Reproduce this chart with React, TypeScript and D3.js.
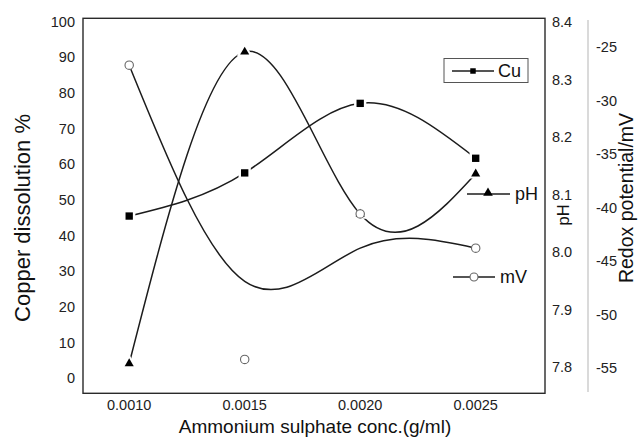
import React from "react";
import * as d3 from "d3";

// Ammonium sulphate concentration (g/ml)
const concentrations = [0.001, 0.0015, 0.002, 0.0025];
// Copper dissolution (%)
const copperDissolution = [45.5, 57.6, 77.1, 61.7];
// Solution pH
const phValues = [7.806, 8.348, 8.066, 8.136];
// Redox potential (mV), measured points
const redoxValues = [-26.7, -54.2, -40.6, -43.8];
// Redox potential (mV), smoothed trend line
const redoxSmoothed = [-26.7, -46.9, -43.8, -43.8];

const xTicks = [0.001, 0.0015, 0.002, 0.0025];
const cuTicks = [0, 10, 20, 30, 40, 50, 60, 70, 80, 90, 100];
const phTicks = [7.8, 7.9, 8.0, 8.1, 8.2, 8.3, 8.4];
const mvTicks = [-55, -50, -45, -40, -35, -30, -25];

const W = 639;
const H = 437;
const FONT = "'Liberation Sans', Arial, Helvetica, sans-serif";
const INK = "#1c1c1c";

const frame = { left: 83, right: 545, top: 18.3, bottom: 393.3 };

export default function App() {
  const x = d3.scaleLinear().domain([0.0008, 0.0028]).range([frame.left, frame.right]);
  const yCu = d3.scaleLinear().domain([0, 100]).range([378.3, 21.7]);
  const yPh = d3.scaleLinear().domain([7.8, 8.4]).range([367, 22]);
  const yMv = d3.scaleLinear().domain([-55, -25]).range([368, 47]);

  const lineOf = (vals: number[], y: d3.ScaleLinear<number, number>) =>
    d3
      .line<number>()
      .x((_, i) => x(concentrations[i]))
      .y((v) => y(v))
      .curve(d3.curveNatural)(vals) || "";

  const sq = d3.symbol().type(d3.symbolSquare);
  const tri = d3.symbol().type(d3.symbolTriangle);

  const squarePath = sq.size(54)() || "";
  const squareHalo = sq.size(150)() || "";
  const triPath = tri.size(36)() || "";
  const triHalo = tri.size(110)() || "";
  const legendSquare = sq.size(30)() || "";
  const legendTri = tri.size(40)() || "";

  const fmtX = d3.format(".4f");
  const fmtPh = d3.format(".1f");

  return (
    <svg
      width={W}
      height={H}
      style={{ position: "absolute", left: 0, top: 0, background: "#fff" }}
      fontFamily={FONT}
    >
      <rect x={0} y={0} width={W} height={H} fill="#fff" />

      {/* plot frame */}
      <rect
        x={frame.left}
        y={frame.top}
        width={frame.right - frame.left}
        height={frame.bottom - frame.top}
        fill="none"
        stroke="#2a2a2a"
        strokeWidth={1.4}
      />

      {/* secondary redox axis line */}
      <line x1={588} x2={588} y1={20} y2={392} stroke="#b5b5b5" strokeWidth={1} />

      {/* left axis labels */}
      {cuTicks.map((t) => (
        <text key={"cu" + t} x={75} y={yCu(t)} textAnchor="end" dominantBaseline="central" fontSize={14.5} fill="#222">
          {t}
        </text>
      ))}
      {/* pH axis labels */}
      {phTicks.map((t) => (
        <text key={"ph" + t} x={552} y={yPh(t)} textAnchor="start" dominantBaseline="central" fontSize={14.5} fill="#222">
          {fmtPh(t)}
        </text>
      ))}
      {/* redox axis labels */}
      {mvTicks.map((t) => (
        <text key={"mv" + t} x={596} y={yMv(t)} textAnchor="start" dominantBaseline="central" fontSize={14.5} fill="#222">
          {String(t)}
        </text>
      ))}
      {/* x axis labels */}
      {xTicks.map((t) => (
        <text key={"x" + t} x={x(t)} y={405} textAnchor="middle" dominantBaseline="central" fontSize={14.5} fill="#222">
          {fmtX(t)}
        </text>
      ))}

      {/* axis titles */}
      <text x={315} y={433} textAnchor="middle" fontSize={19} fill="#111">
        Ammonium sulphate conc.(g/ml)
      </text>
      <text
        transform="translate(22,218) rotate(-90)"
        textAnchor="middle"
        dominantBaseline="central"
        fontSize={22}
        fill="#111"
      >
        Copper dissolution %
      </text>
      <text
        transform="translate(569,215) rotate(-90)"
        textAnchor="middle"
        fontSize={16.5}
        fill="#111"
      >
        pH
      </text>
      <text
        transform="translate(633,198) rotate(-90)"
        textAnchor="middle"
        fontSize={19.5}
        fill="#111"
      >
        Redox potential/mV
      </text>

      {/* curves */}
      <path d={lineOf(copperDissolution, yCu)} fill="none" stroke={INK} strokeWidth={1.5} />
      <path d={lineOf(phValues, yPh)} fill="none" stroke={INK} strokeWidth={1.5} />
      <path d={lineOf(redoxSmoothed, yMv)} fill="none" stroke={INK} strokeWidth={1.5} />

      {/* copper markers */}
      {copperDissolution.map((v, i) => (
        <g key={"cum" + i} transform={`translate(${x(concentrations[i])},${yCu(v)})`}>
          <path d={squareHalo} fill="#fff" />
          <path d={squarePath} fill="#000" />
        </g>
      ))}
      {/* pH markers */}
      {phValues.map((v, i) => (
        <g key={"phm" + i} transform={`translate(${x(concentrations[i])},${yPh(v)})`}>
          <path d={triHalo} fill="#fff" />
          <path d={triPath} fill="#000" />
        </g>
      ))}
      {/* redox markers */}
      {redoxValues.map((v, i) => (
        <circle
          key={"mvm" + i}
          cx={x(concentrations[i])}
          cy={yMv(v)}
          r={4.2}
          fill="#fff"
          stroke="#666"
          strokeWidth={1.1}
        />
      ))}

      {/* legend: Cu */}
      <rect x={444} y={58.5} width={84} height={24} fill="#fff" stroke="#555" strokeWidth={1} />
      <line x1={452} x2={494} y1={71} y2={71} stroke={INK} strokeWidth={1.3} />
      <path d={legendSquare} transform="translate(473,71)" fill="#000" />
      <text x={498} y={71} dominantBaseline="central" fontSize={18} fill="#111">
        Cu
      </text>

      {/* legend: pH */}
      <line x1={467} x2={510} y1={194} y2={194} stroke={INK} strokeWidth={1.3} />
      <path d={legendTri} transform="translate(488,193)" fill="#000" />
      <text x={515} y={194} dominantBaseline="central" fontSize={18} fill="#111">
        pH
      </text>

      {/* legend: mV */}
      <line x1={453} x2={495} y1={277} y2={277} stroke={INK} strokeWidth={1.3} />
      <circle cx={474} cy={277} r={4} fill="#fff" stroke="#666" strokeWidth={1.1} />
      <text x={500} y={277} dominantBaseline="central" fontSize={18} fill="#111">
        mV
      </text>
    </svg>
  );
}
